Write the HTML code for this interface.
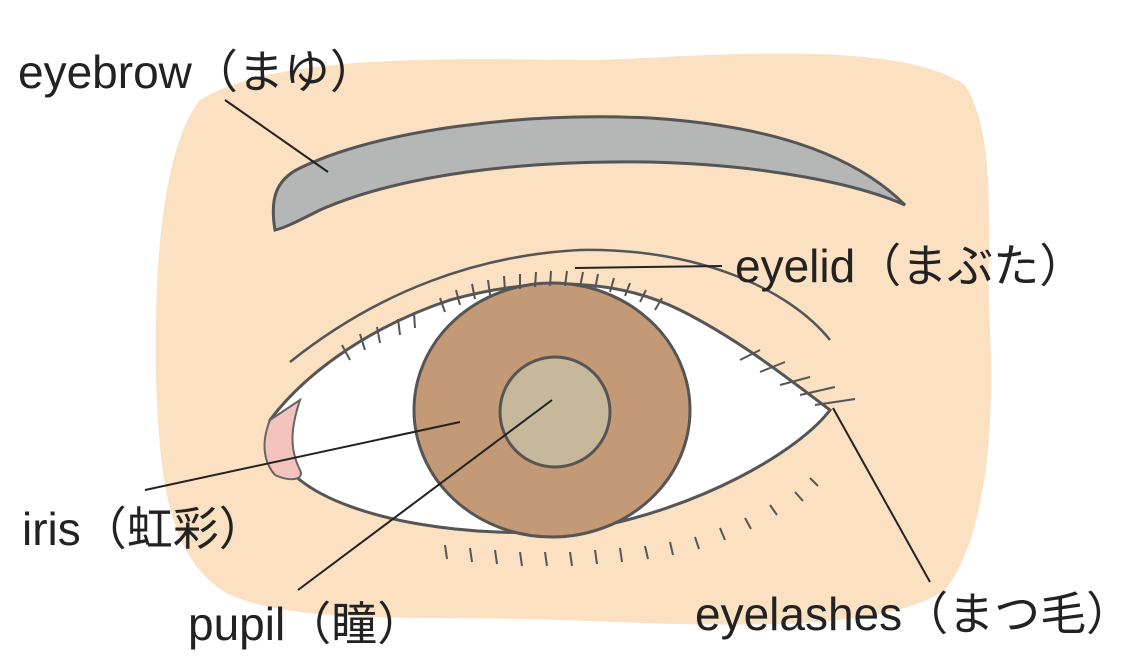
<!DOCTYPE html>
<html><head><meta charset="utf-8"><style>
html,body{margin:0;padding:0;background:#fff;width:1140px;height:671px;overflow:hidden}
svg{display:block}
text{font-family:"Liberation Sans","Noto Sans CJK JP",sans-serif;font-size:46px;fill:#222}
</style></head><body>
<svg width="1140" height="671" viewBox="0 0 1140 671">
<path d="M200,100 C280,50 480,60 600,60 C720,55 900,40 965,85 C1000,140 985,250 990,330 C995,430 985,540 945,590 C880,635 700,625 560,620 C420,615 300,625 230,595 C165,560 160,470 156,380 C154,280 160,150 200,100 Z" fill="#fbe0c1"/>
<path d="M275,230 C270,200 275,180 300,168 C380,130 520,112 650,118 C760,125 850,150 905,205 C860,185 770,165 650,162 C520,160 400,175 320,210 C300,220 285,228 275,230 Z" fill="#b5b7b6" stroke="#555" stroke-width="3"/>
<path d="M290,362 C380,290 480,255 580,250 C700,248 790,290 830,340" fill="none" stroke="#555" stroke-width="2.5"/>
<path d="M270,420 C300,380 360,330 450,300 C540,275 620,280 680,310 C740,340 790,380 830,410 C800,450 700,510 580,530 C470,540 350,520 300,480 C280,465 265,440 270,420 Z" fill="#fff" stroke="#555" stroke-width="3"/>
<path d="M270,420 C262,440 262,460 275,475 C290,482 305,480 300,470 C290,450 290,430 300,400 Z" fill="#f4c3bd" stroke="#666" stroke-width="2"/>
<ellipse cx="552" cy="410" rx="138" ry="127" fill="#c49975" stroke="#555" stroke-width="3"/>
<ellipse cx="555" cy="412" rx="55" ry="55" fill="#c7b89b" stroke="#555" stroke-width="3"/>
<g stroke="#555" stroke-width="2" fill="none">
<path d="M445,312 l-5,-14 M460,305 l-4,-15 M475,299 l-3,-15 M490,295 l-2,-15 M505,291 l-1,-15 M520,289 l0,-15 M535,287 l1,-15 M550,286 l1,-15 M565,286 l2,-15 M580,287 l3,-15 M595,289 l3,-15 M610,292 l4,-14 M625,296 l5,-13 M640,302 l6,-12 M655,310 l7,-12"/>
<path d="M350,360 l-8,-15 M365,350 l-5,-16 M380,343 l-3,-16 M400,335 l-2,-16 M415,328 l-1,-15"/>
<path d="M740,360 l20,-10 M760,372 l25,-10 M780,385 l30,-8 M800,395 l35,-8 M815,405 l40,-6"/>
<path d="M445,545 l2,14 M470,548 l2,14 M495,550 l2,14 M520,552 l2,14 M545,552 l2,14 M570,552 l2,14 M595,550 l2,14 M620,548 l2,14 M645,546 l3,13 M670,542 l3,13 M695,537 l4,12 M720,528 l5,12 M745,518 l6,11 M770,505 l7,10 M795,492 l8,9 M810,478 l8,8"/>
</g>
<g stroke="#222" stroke-width="2">
<line x1="225" y1="100" x2="328" y2="172"/>
<line x1="575" y1="268" x2="722" y2="266"/>
<line x1="145" y1="490" x2="460" y2="422"/>
<line x1="298" y1="590" x2="552" y2="400"/>
<line x1="833" y1="408" x2="930" y2="582"/>
</g>
<text x="18" y="88">eyebrow（まゆ）</text>
<text x="735" y="282">eyelid（まぶた）</text>
<text x="22" y="545">iris（虹彩）</text>
<text x="188" y="640">pupil（瞳）</text>
<text x="695" y="630">eyelashes（まつ毛）</text>
</svg>
</body></html>
